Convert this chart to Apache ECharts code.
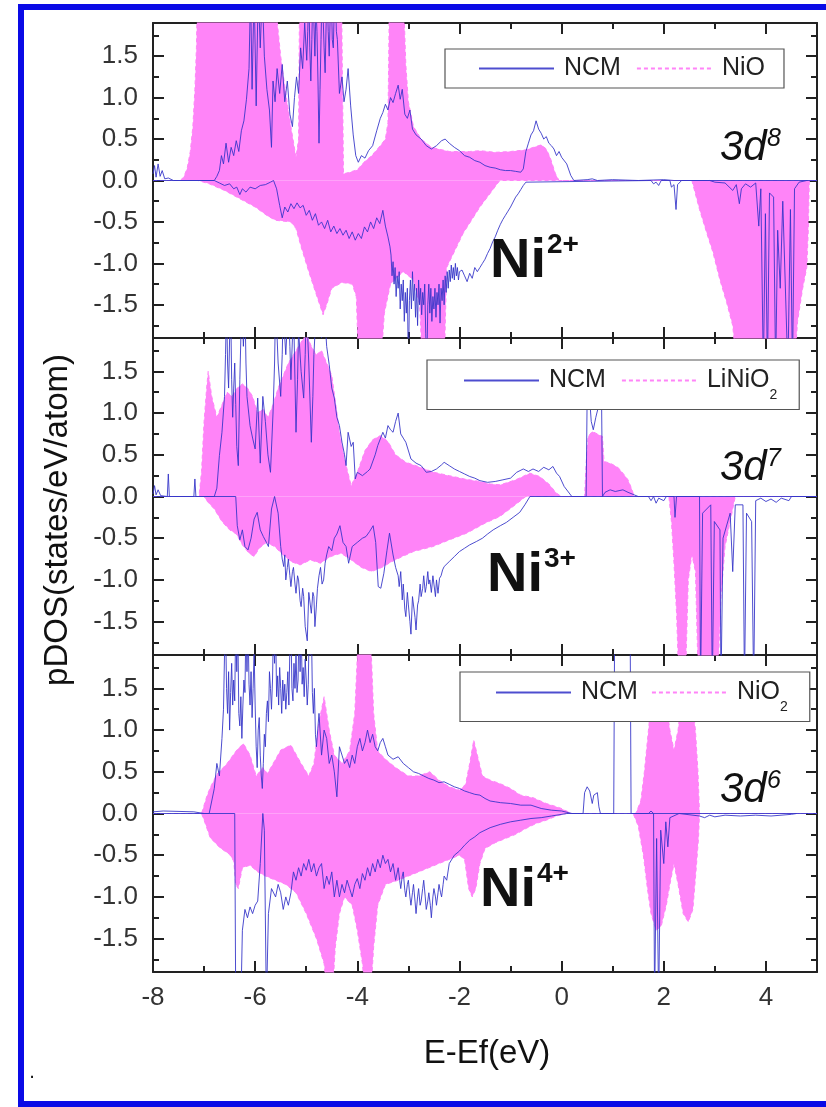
<!DOCTYPE html>
<html><head><meta charset="utf-8">
<script src="https://cdn.jsdelivr.net/npm/echarts@6/dist/echarts.min.js"></script>
<style>html,body{margin:0;padding:0;background:#fff}#c{width:826px;height:1107px}</style>
</head><body><div id="c"></div>
<script>
// ---------- tick labels ----------
const xMajorTicks = [-8, -6, -4, -2, 0, 2, 4];
const xMinorTicks = [-7, -5, -3, -1, 1, 3];
const yMajorTicks = [-1.5, -1, -0.5, 0, 0.5, 1, 1.5];
const yMinorTicks = [-1.75, -1.25, -0.75, -0.25, 0.25, 0.75, 1.25, 1.75];
const ncmName = 'NCM';
const refNames = ['NiO', 'LiNiO2', 'NiO2'];
const ionLabels = [['Ni', '2+'], ['Ni', '3+'], ['Ni', '4+']];
const configLabels = [['3d', '8'], ['3d', '7'], ['3d', '6']];
const xTitle = 'E-Ef(eV)';
const yTitle = 'pDOS(states/eV/atom)';

// ---------- panel 1 : Ni2+ (NCM vs NiO) ----------
const ncmUp1 = [[-8,0.08],[-7.97,0.18],[-7.94,0.04],[-7.9,0.2],[-7.86,0.05],[-7.82,0.12],[-7.77,0.02],[-7.7,0.03],[-7.6,0],[-6.8,0],[-6.75,0.05],[-6.7,0.12],[-6.66,0.3],[-6.62,0.2],[-6.57,0.45],[-6.52,0.22],[-6.47,0.4],[-6.42,0.3],[-6.37,0.48],[-6.32,0.35],[-6.27,0.6],[-6.22,0.72],[-6.17,0.98],[-6.12,1.35],[-6.09,2.3],[-6.06,1.1],[-6.02,2.3],[-5.98,0.9],[-5.94,2.3],[-5.9,1.6],[-5.86,2.3],[-5.82,1.5],[-5.77,1.1],[-5.72,0.85],[-5.68,0.4],[-5.65,1.2],[-5.61,0.95],[-5.57,1.35],[-5.52,1.05],[-5.47,1.4],[-5.42,0.95],[-5.37,1.2],[-5.32,0.8],[-5.27,0.65],[-5.23,1.0],[-5.19,1.25],[-5.15,1.05],[-5.11,1.6],[-5.07,1.35],[-5.03,1.9],[-4.99,1.45],[-4.97,1.8],[-4.95,2.3],[-4.93,1.6],[-4.91,1.2],[-4.89,1.7],[-4.87,2.3],[-4.85,1.9],[-4.83,1.5],[-4.81,2.1],[-4.79,1.8],[-4.77,1.2],[-4.75,0.45],[-4.73,1.1],[-4.71,1.7],[-4.69,2.3],[-4.67,2.0],[-4.65,1.6],[-4.63,1.3],[-4.61,1.9],[-4.59,2.3],[-4.57,1.8],[-4.55,1.5],[-4.53,2.0],[-4.51,2.3],[-4.49,1.7],[-4.47,1.6],[-4.45,2.1],[-4.43,2.3],[-4.41,1.8],[-4.39,1.7],[-4.35,1.05],[-4.3,1.25],[-4.26,0.95],[-4.22,1.1],[-4.18,1.35],[-4.13,0.9],[-4.08,0.55],[-4.03,0.3],[-3.98,0.22],[-3.92,0.3],[-3.85,0.27],[-3.78,0.36],[-3.7,0.42],[-3.62,0.6],[-3.55,0.75],[-3.5,0.82],[-3.45,0.92],[-3.4,0.85],[-3.35,1.0],[-3.3,0.94],[-3.25,1.05],[-3.2,1.15],[-3.16,0.98],[-3.12,1.1],[-3.07,0.8],[-3.02,0.75],[-2.97,0.85],[-2.92,0.62],[-2.85,0.55],[-2.75,0.5],[-2.65,0.42],[-2.55,0.38],[-2.45,0.42],[-2.35,0.48],[-2.28,0.5],[-2.2,0.45],[-2.1,0.4],[-2.0,0.36],[-1.9,0.3],[-1.8,0.28],[-1.7,0.24],[-1.6,0.22],[-1.5,0.18],[-1.4,0.16],[-1.3,0.15],[-1.2,0.13],[-1.1,0.12],[-1.0,0.12],[-0.9,0.11],[-0.8,0.1],[-0.75,0.14],[-0.7,0.35],[-0.65,0.45],[-0.6,0.55],[-0.55,0.6],[-0.5,0.72],[-0.45,0.62],[-0.4,0.57],[-0.35,0.5],[-0.3,0.53],[-0.25,0.45],[-0.2,0.42],[-0.15,0.38],[-0.1,0.3],[-0.05,0.35],[0,0.28],[0.1,0.2],[0.18,0.06],[0.24,0],[0.5,0.01],[0.6,0.02],[0.7,0],[1.0,0.01],[1.5,0],[2.0,0.01],[2.2,0],[5,0]];
const ncmDn1 = [[-8,0],[-6.8,0],[-6.7,-0.03],[-6.6,-0.06],[-6.5,-0.04],[-6.42,-0.1],[-6.36,-0.08],[-6.3,-0.17],[-6.25,-0.1],[-6.18,-0.14],[-6.1,-0.08],[-6.0,-0.1],[-5.9,-0.06],[-5.8,-0.05],[-5.7,-0.02],[-5.64,0],[-5.58,-0.1],[-5.52,-0.3],[-5.47,-0.45],[-5.42,-0.32],[-5.36,-0.38],[-5.3,-0.28],[-5.24,-0.34],[-5.18,-0.27],[-5.12,-0.33],[-5.06,-0.3],[-5.0,-0.42],[-4.94,-0.36],[-4.88,-0.48],[-4.82,-0.4],[-4.76,-0.54],[-4.7,-0.5],[-4.64,-0.58],[-4.58,-0.48],[-4.52,-0.62],[-4.46,-0.55],[-4.4,-0.64],[-4.34,-0.58],[-4.28,-0.66],[-4.22,-0.6],[-4.16,-0.7],[-4.1,-0.62],[-4.04,-0.72],[-3.98,-0.64],[-3.92,-0.7],[-3.86,-0.56],[-3.8,-0.62],[-3.74,-0.5],[-3.68,-0.58],[-3.62,-0.45],[-3.56,-0.52],[-3.5,-0.36],[-3.45,-0.55],[-3.4,-0.68],[-3.36,-0.8],[-3.34,-0.9],[-3.32,-1.15],[-3.3,-0.98],[-3.28,-1.25],[-3.26,-1.05],[-3.24,-1.4],[-3.22,-1.15],[-3.2,-1.3],[-3.18,-1.1],[-3.16,-1.55],[-3.14,-1.25],[-3.12,-1.45],[-3.1,-1.2],[-3.08,-1.7],[-3.06,-1.35],[-3.04,-1.6],[-3.02,-1.3],[-3.0,-2.3],[-2.98,-1.45],[-2.96,-1.2],[-2.94,-1.55],[-2.92,-1.1],[-2.9,-1.45],[-2.88,-1.25],[-2.86,-1.65],[-2.84,-1.3],[-2.82,-1.75],[-2.8,-1.2],[-2.78,-1.5],[-2.76,-1.3],[-2.74,-1.62],[-2.72,-1.35],[-2.7,-1.5],[-2.68,-1.25],[-2.66,-1.85],[-2.64,-2.3],[-2.62,-1.5],[-2.6,-1.25],[-2.58,-1.6],[-2.56,-1.3],[-2.54,-1.7],[-2.52,-1.4],[-2.5,-1.55],[-2.48,-1.3],[-2.46,-1.65],[-2.44,-1.35],[-2.42,-1.5],[-2.4,-1.25],[-2.38,-1.72],[-2.36,-1.3],[-2.34,-1.45],[-2.32,-1.2],[-2.3,-1.5],[-2.28,-1.15],[-2.26,-1.35],[-2.24,-1.1],[-2.22,-1.3],[-2.2,-1.08],[-2.18,-1.22],[-2.16,-1.02],[-2.14,-1.18],[-2.12,-1.05],[-2.1,-1.2],[-2.08,-1.0],[-2.06,-1.15],[-2.04,-1.05],[-2.02,-1.2],[-2.0,-1.1],[-1.95,-1.08],[-1.9,-1.15],[-1.85,-1.22],[-1.8,-1.12],[-1.75,-1.18],[-1.7,-1.05],[-1.65,-1.1],[-1.6,-1.05],[-1.55,-1.0],[-1.5,-0.95],[-1.45,-0.88],[-1.4,-0.82],[-1.35,-0.74],[-1.3,-0.68],[-1.25,-0.6],[-1.2,-0.53],[-1.15,-0.47],[-1.1,-0.42],[-1.05,-0.37],[-1.0,-0.32],[-0.95,-0.26],[-0.9,-0.2],[-0.85,-0.16],[-0.8,-0.11],[-0.75,-0.06],[-0.7,-0.02],[-0.67,0],[1.75,0],[1.8,-0.04],[1.85,-0.02],[1.9,-0.06],[1.95,0],[2.12,0],[2.15,-0.08],[2.2,-0.05],[2.24,-0.35],[2.27,-0.05],[2.35,0],[2.9,0],[3.0,-0.02],[3.2,-0.03],[3.35,-0.12],[3.42,-0.05],[3.48,-0.28],[3.52,-0.1],[3.6,-0.04],[3.7,-0.08],[3.8,-0.03],[3.86,-0.55],[3.9,-0.1],[3.95,-2.3],[3.99,-0.4],[4.03,-2.3],[4.07,-0.15],[4.15,-0.2],[4.19,-2.3],[4.23,-0.6],[4.28,-1.3],[4.33,-0.25],[4.43,-2.3],[4.48,-0.35],[4.52,-2.3],[4.56,-0.1],[4.65,-0.02],[4.8,0]];
const refUp1 = [[-8,0],[-7.47,0],[-7.4,0.04],[-7.33,0.15],[-7.27,0.35],[-7.22,0.65],[-7.18,1.1],[-7.15,1.6],[-7.13,2.3],[-5.63,2.3],[-5.5,1.5],[-5.4,1.05],[-5.3,0.65],[-5.2,0.28],[-5.15,0.5],[-5.13,2.3],[-4.31,2.3],[-4.27,0.08],[-4.15,0.1],[-4.0,0.13],[-3.87,0.22],[-3.72,0.3],[-3.55,0.42],[-3.45,0.5],[-3.4,0.7],[-3.37,2.3],[-3.1,2.3],[-3.05,1.4],[-3.0,0.95],[-2.9,0.65],[-2.75,0.5],[-2.55,0.4],[-2.2,0.35],[-1.8,0.35],[-1.6,0.36],[-1.3,0.34],[-1.0,0.35],[-0.7,0.37],[-0.55,0.4],[-0.4,0.43],[-0.3,0.38],[-0.22,0.27],[-0.12,0.08],[-0.05,0],[5,0]];
const refDn1 = [[-8,0],[-7.12,0],[-6.9,-0.04],[-6.6,-0.12],[-6.3,-0.22],[-6.0,-0.32],[-5.75,-0.43],[-5.6,-0.48],[-5.3,-0.5],[-5.2,-0.58],[-5.1,-0.8],[-4.95,-1.1],[-4.8,-1.38],[-4.67,-1.62],[-4.6,-1.5],[-4.5,-1.3],[-4.3,-1.23],[-4.1,-1.25],[-4.02,-1.4],[-3.97,-2.3],[-3.55,-2.3],[-3.47,-1.6],[-3.35,-1.25],[-3.1,-1.1],[-2.9,-1.2],[-2.78,-1.5],[-2.72,-2.3],[-2.3,-2.3],[-2.25,-1.05],[-1.93,-0.64],[-1.6,-0.32],[-1.21,0],[2.55,0],[2.7,-0.35],[2.85,-0.65],[2.96,-0.86],[3.1,-1.2],[3.23,-1.47],[3.35,-1.75],[3.43,-2.3],[4.55,-2.3],[4.62,-1.7],[4.72,-1.3],[4.8,-1.05],[4.83,-0.6],[4.85,0],[5,0]];

// ---------- panel 2 : Ni3+ (NCM vs LiNiO2) ----------
const ncmUp2 = [[-8,0.03],[-7.97,0.13],[-7.94,0.02],[-7.9,0.08],[-7.85,0.01],[-7.72,0],[-7.7,0.27],[-7.68,0],[-7.2,0],[-7.18,0.21],[-7.16,0],[-6.8,0],[-6.75,0.1],[-6.7,0.49],[-6.65,0.77],[-6.6,1.2],[-6.58,1.7],[-6.56,2.3],[-6.54,1.6],[-6.52,1.3],[-6.5,1.9],[-6.48,2.3],[-6.46,1.4],[-6.44,0.95],[-6.42,1.3],[-6.4,1.6],[-6.38,1.1],[-6.36,0.6],[-6.33,0.37],[-6.3,1.4],[-6.28,1.9],[-6.26,2.3],[-6.23,1.8],[-6.2,2.3],[-6.18,1.6],[-6.16,1.2],[-6.1,0.85],[-6.05,0.7],[-6.0,0.57],[-5.95,1.18],[-5.9,0.4],[-5.85,1.2],[-5.8,0.9],[-5.75,0.5],[-5.7,0.29],[-5.65,1.0],[-5.62,1.6],[-5.6,2.3],[-5.57,1.9],[-5.55,1.6],[-5.5,1.2],[-5.47,1.7],[-5.45,2.3],[-5.42,1.9],[-5.4,1.7],[-5.37,2.1],[-5.35,2.3],[-5.32,1.8],[-5.3,1.4],[-5.27,1.9],[-5.25,2.3],[-5.2,0.77],[-5.17,1.4],[-5.15,2.0],[-5.1,1.5],[-5.05,1.18],[-5.02,1.7],[-5.0,2.3],[-4.97,1.9],[-4.95,1.6],[-4.9,0.65],[-4.87,1.2],[-4.85,1.7],[-4.8,2.3],[-4.75,2.3],[-4.7,1.9],[-4.65,2.3],[-4.6,1.8],[-4.55,1.58],[-4.5,1.3],[-4.45,1.18],[-4.4,0.95],[-4.35,0.85],[-4.3,0.65],[-4.25,0.5],[-4.22,0.37],[-4.18,0.77],[-4.12,0.6],[-4.08,0.65],[-4.04,0.21],[-4.0,0.29],[-3.9,0.25],[-3.8,0.3],[-3.75,0.33],[-3.65,0.5],[-3.6,0.61],[-3.5,0.77],[-3.45,0.7],[-3.4,0.85],[-3.35,0.8],[-3.3,0.77],[-3.25,0.9],[-3.2,1.0],[-3.15,0.75],[-3.1,0.7],[-3.05,0.65],[-2.95,0.45],[-2.85,0.4],[-2.75,0.37],[-2.65,0.29],[-2.55,0.3],[-2.45,0.33],[-2.35,0.38],[-2.3,0.41],[-2.2,0.37],[-2.1,0.33],[-2.0,0.3],[-1.9,0.27],[-1.8,0.24],[-1.7,0.22],[-1.6,0.19],[-1.45,0.17],[-1.3,0.18],[-1.15,0.2],[-1.0,0.22],[-0.88,0.29],[-0.75,0.33],[-0.65,0.3],[-0.56,0.33],[-0.45,0.3],[-0.35,0.35],[-0.25,0.32],[-0.17,0.36],[-0.1,0.28],[-0.04,0.24],[0.05,0.12],[0.2,0],[0.48,0],[0.5,1.2],[0.54,1.25],[0.58,0.9],[0.62,0.8],[0.67,0.95],[0.73,1.1],[0.78,1.3],[0.8,0],[0.85,0.05],[0.95,0.08],[1.05,0.06],[1.2,0.08],[1.3,0.05],[1.42,0.02],[1.5,0],[5,0]];
const ncmDn2 = [[-8,0],[-6.38,0],[-6.35,-0.35],[-6.3,-0.52],[-6.25,-0.4],[-6.2,-0.6],[-6.14,-0.64],[-6.08,-0.5],[-6.02,-0.27],[-5.96,-0.19],[-5.9,-0.4],[-5.84,-0.48],[-5.78,-0.55],[-5.74,-0.6],[-5.68,-0.15],[-5.62,0],[-5.55,-0.2],[-5.5,-0.6],[-5.47,-0.75],[-5.44,-0.84],[-5.42,-0.7],[-5.4,-1.0],[-5.37,-0.85],[-5.35,-0.75],[-5.32,-0.95],[-5.3,-1.08],[-5.27,-0.9],[-5.25,-0.85],[-5.22,-1.05],[-5.2,-1.16],[-5.17,-0.95],[-5.15,-1.0],[-5.12,-1.25],[-5.1,-1.32],[-5.07,-1.1],[-5.05,-1.2],[-5.02,-1.56],[-4.98,-1.73],[-4.95,-1.15],[-4.92,-1.3],[-4.9,-1.4],[-4.87,-1.15],[-4.85,-1.2],[-4.83,-1.56],[-4.8,-1.3],[-4.78,-1.1],[-4.75,-0.95],[-4.72,-0.85],[-4.69,-1.05],[-4.66,-1.0],[-4.63,-0.8],[-4.6,-0.7],[-4.56,-0.6],[-4.5,-0.65],[-4.45,-0.5],[-4.4,-0.45],[-4.34,-0.35],[-4.28,-0.55],[-4.22,-0.6],[-4.17,-0.8],[-4.1,-0.6],[-4.0,-0.55],[-3.9,-0.5],[-3.83,-0.48],[-3.76,-0.42],[-3.69,-0.35],[-3.64,-0.55],[-3.59,-1.08],[-3.54,-1.1],[-3.48,-0.92],[-3.42,-0.65],[-3.37,-0.44],[-3.3,-0.7],[-3.25,-0.85],[-3.2,-0.95],[-3.18,-1.08],[-3.15,-0.9],[-3.12,-1.24],[-3.1,-1.05],[-3.07,-1.35],[-3.05,-1.44],[-3.02,-1.15],[-3.0,-1.3],[-2.97,-1.5],[-2.95,-1.65],[-2.92,-1.2],[-2.9,-1.3],[-2.87,-1.45],[-2.85,-1.6],[-2.82,-1.3],[-2.8,-1.25],[-2.77,-1.05],[-2.75,-1.2],[-2.72,-1.1],[-2.7,-0.95],[-2.67,-1.15],[-2.65,-1.08],[-2.62,-0.9],[-2.6,-1.05],[-2.58,-1.0],[-2.55,-1.15],[-2.52,-0.95],[-2.5,-1.05],[-2.47,-1.2],[-2.45,-1.0],[-2.42,-1.16],[-2.39,-0.98],[-2.36,-0.95],[-2.33,-0.88],[-2.3,-0.84],[-2.2,-0.78],[-2.1,-0.72],[-2.0,-0.66],[-1.9,-0.62],[-1.8,-0.58],[-1.67,-0.54],[-1.55,-0.5],[-1.45,-0.45],[-1.34,-0.4],[-1.2,-0.35],[-1.08,-0.31],[-0.95,-0.25],[-0.82,-0.19],[-0.72,-0.1],[-0.62,0],[1.7,0],[1.75,-0.05],[1.8,0],[1.85,-0.08],[1.9,-0.02],[2.0,-0.05],[2.05,0],[2.2,0],[2.22,-0.25],[2.25,0],[2.7,0],[2.72,-2.3],[2.76,-0.2],[2.92,-0.1],[2.95,-2.3],[2.99,-0.3],[3.1,-0.4],[3.12,-2.3],[3.16,-0.5],[3.3,-0.2],[3.35,-0.9],[3.4,-0.1],[3.55,-0.1],[3.58,-2.3],[3.62,-0.2],[3.72,-0.3],[3.76,-2.3],[3.8,-0.05],[3.9,-0.02],[4.0,-0.06],[4.1,-0.03],[4.2,-0.07],[4.3,-0.02],[4.45,-0.05],[4.5,0],[5,0]];
const refUp2 = [[-8,0],[-7.1,0],[-7.05,0.3],[-7.0,0.9],[-6.95,1.3],[-6.92,1.5],[-6.85,1.2],[-6.75,0.95],[-6.65,1.1],[-6.55,1.25],[-6.45,1.2],[-6.35,1.3],[-6.25,1.35],[-6.15,1.3],[-6.05,1.2],[-5.95,1.0],[-5.85,1.05],[-5.75,0.95],[-5.65,1.1],[-5.55,1.3],[-5.45,1.45],[-5.35,1.6],[-5.25,1.7],[-5.1,1.85],[-5.0,1.95],[-4.9,1.8],[-4.8,1.7],[-4.7,1.75],[-4.6,1.6],[-4.5,1.45],[-4.42,1.1],[-4.35,0.77],[-4.25,0.45],[-4.12,0.13],[-4.0,0.29],[-3.85,0.55],[-3.7,0.68],[-3.55,0.73],[-3.4,0.66],[-3.25,0.5],[-3.05,0.41],[-2.85,0.37],[-2.5,0.29],[-2.2,0.25],[-1.9,0.21],[-1.6,0.18],[-1.4,0.15],[-1.2,0.14],[-0.9,0.2],[-0.62,0.28],[-0.43,0.24],[-0.25,0.15],[-0.1,0.04],[0,0],[0.45,0],[0.48,0.4],[0.52,0.72],[0.6,0.78],[0.7,0.75],[0.8,0.72],[0.83,0.42],[0.95,0.4],[1.1,0.35],[1.2,0.28],[1.3,0.2],[1.38,0.08],[1.42,0],[5,0]];
const refDn2 = [[-8,0],[-7.0,0],[-6.95,-0.05],[-6.8,-0.15],[-6.65,-0.3],[-6.5,-0.4],[-6.37,-0.45],[-6.25,-0.58],[-6.12,-0.68],[-6.02,-0.72],[-5.92,-0.62],[-5.78,-0.55],[-5.62,-0.6],[-5.45,-0.7],[-5.3,-0.78],[-5.12,-0.82],[-4.92,-0.76],[-4.72,-0.8],[-4.52,-0.72],[-4.32,-0.68],[-4.12,-0.76],[-3.92,-0.85],[-3.72,-0.9],[-3.52,-0.85],[-3.32,-0.78],[-3.12,-0.72],[-2.9,-0.66],[-2.52,-0.6],[-2.2,-0.52],[-1.86,-0.44],[-1.5,-0.32],[-1.21,-0.24],[-0.95,-0.12],[-0.7,0],[2.1,0],[2.15,-0.3],[2.2,-0.8],[2.25,-1.4],[2.3,-2.3],[2.42,-2.3],[2.48,-1.0],[2.55,-0.7],[2.62,-0.9],[2.68,-2.3],[3.05,-2.3],[3.12,-1.2],[3.2,-0.6],[3.3,-0.3],[3.4,0],[5,0]];

// ---------- panel 3 : Ni4+ (NCM vs NiO2) ----------
const ncmUp3 = [[-8,0.02],[-7.8,0.03],[-7.2,0.02],[-7.0,0],[-6.9,0],[-6.85,0.15],[-6.8,0.3],[-6.75,0.6],[-6.7,0.45],[-6.65,0.9],[-6.62,1.25],[-6.6,1.9],[-6.58,2.3],[-6.56,1.5],[-6.54,1.2],[-6.52,1.7],[-6.5,1.0],[-6.48,1.45],[-6.46,1.8],[-6.44,1.3],[-6.42,1.6],[-6.4,1.35],[-6.38,2.3],[-6.36,1.7],[-6.34,2.3],[-6.32,1.2],[-6.3,1.05],[-6.28,1.4],[-6.26,0.9],[-6.24,1.3],[-6.22,1.6],[-6.2,1.45],[-6.18,2.3],[-6.16,1.7],[-6.14,2.3],[-6.12,1.55],[-6.1,1.3],[-6.08,1.7],[-6.06,1.15],[-6.04,1.5],[-6.02,1.95],[-6.0,1.3],[-5.98,0.8],[-5.96,0.55],[-5.94,1.0],[-5.92,1.15],[-5.9,0.7],[-5.88,0.45],[-5.86,0.3],[-5.84,0.6],[-5.82,0.95],[-5.8,0.8],[-5.78,1.2],[-5.76,1.35],[-5.74,1.1],[-5.72,1.7],[-5.7,1.5],[-5.68,1.25],[-5.66,1.6],[-5.64,2.3],[-5.62,1.8],[-5.6,2.3],[-5.58,1.4],[-5.56,1.65],[-5.54,1.3],[-5.52,1.75],[-5.5,1.5],[-5.48,1.2],[-5.46,1.6],[-5.44,1.35],[-5.42,1.55],[-5.4,1.25],[-5.38,1.45],[-5.36,1.7],[-5.34,1.3],[-5.32,2.0],[-5.3,2.3],[-5.28,1.5],[-5.26,1.35],[-5.24,1.8],[-5.22,1.5],[-5.2,1.9],[-5.18,1.45],[-5.16,1.6],[-5.14,2.3],[-5.12,1.7],[-5.1,2.3],[-5.08,1.55],[-5.06,1.75],[-5.04,1.4],[-5.02,1.85],[-5.0,1.6],[-4.98,1.3],[-4.96,1.55],[-4.94,2.3],[-4.92,1.9],[-4.9,2.3],[-4.88,1.45],[-4.86,1.2],[-4.84,1.5],[-4.82,0.95],[-4.8,0.8],[-4.75,1.2],[-4.7,0.7],[-4.65,1.0],[-4.6,0.9],[-4.55,0.6],[-4.5,0.7],[-4.45,0.5],[-4.4,0.2],[-4.35,0.8],[-4.3,0.7],[-4.25,0.6],[-4.2,0.65],[-4.15,0.55],[-4.1,0.7],[-4.05,0.6],[-4.0,0.8],[-3.95,0.9],[-3.9,0.75],[-3.85,0.85],[-3.8,1.0],[-3.75,0.85],[-3.7,0.95],[-3.65,0.8],[-3.6,0.75],[-3.55,0.85],[-3.5,0.9],[-3.45,0.8],[-3.4,0.7],[-3.3,0.65],[-3.2,0.68],[-3.1,0.6],[-3.0,0.55],[-2.9,0.5],[-2.8,0.48],[-2.7,0.45],[-2.6,0.42],[-2.5,0.4],[-2.4,0.37],[-2.3,0.38],[-2.2,0.35],[-2.1,0.32],[-2.0,0.3],[-1.9,0.27],[-1.8,0.25],[-1.7,0.23],[-1.6,0.22],[-1.5,0.18],[-1.4,0.15],[-1.3,0.14],[-1.2,0.13],[-1.0,0.12],[-0.8,0.1],[-0.6,0.1],[-0.4,0.06],[-0.2,0.04],[0,0.03],[0.2,0],[0.42,0],[0.45,0.25],[0.5,0.32],[0.55,0.27],[0.6,0.12],[0.63,0.22],[0.7,0.25],[0.73,0.08],[0.76,0],[1.02,0],[1.04,2.5],[1.34,2.5],[1.36,0],[5,0]];
const ncmDn3 = [[-8,0],[-6.4,0],[-6.38,-2.3],[-6.28,-2.3],[-6.25,-1.4],[-6.2,-1.15],[-6.15,-1.25],[-6.1,-1.12],[-6.05,-1.2],[-6.0,-1.1],[-5.95,-1.05],[-5.9,-0.6],[-5.85,0],[-5.82,-0.2],[-5.78,-2.3],[-5.74,-1.2],[-5.68,-0.9],[-5.6,-1.0],[-5.55,-0.85],[-5.5,-0.95],[-5.45,-1.15],[-5.4,-1.0],[-5.35,-1.1],[-5.3,-0.95],[-5.25,-0.7],[-5.2,-0.8],[-5.15,-0.65],[-5.1,-0.75],[-5.05,-0.6],[-5.0,-0.68],[-4.95,-0.55],[-4.9,-0.7],[-4.85,-0.6],[-4.8,-0.75],[-4.75,-0.65],[-4.7,-0.6],[-4.65,-0.9],[-4.6,-0.75],[-4.55,-0.85],[-4.5,-0.7],[-4.45,-1.0],[-4.4,-0.8],[-4.35,-1.0],[-4.3,-0.85],[-4.25,-0.95],[-4.2,-0.8],[-4.15,-0.9],[-4.1,-1.0],[-4.05,-0.85],[-4.0,-0.78],[-3.95,-0.9],[-3.9,-0.72],[-3.85,-0.8],[-3.8,-0.65],[-3.75,-0.75],[-3.7,-0.6],[-3.65,-0.7],[-3.6,-0.55],[-3.55,-0.65],[-3.5,-0.5],[-3.45,-0.6],[-3.4,-0.55],[-3.35,-0.7],[-3.3,-0.6],[-3.25,-0.8],[-3.2,-0.65],[-3.17,-0.8],[-3.15,-0.9],[-3.12,-0.75],[-3.1,-0.7],[-3.07,-0.92],[-3.05,-1.0],[-3.02,-0.85],[-3.0,-0.8],[-2.97,-1.0],[-2.95,-1.1],[-2.92,-0.95],[-2.9,-0.85],[-2.87,-1.05],[-2.85,-1.2],[-2.82,-1.0],[-2.8,-0.9],[-2.77,-1.1],[-2.75,-1.05],[-2.72,-0.9],[-2.7,-0.8],[-2.67,-1.0],[-2.65,-1.15],[-2.62,-1.05],[-2.6,-0.95],[-2.57,-1.1],[-2.55,-1.25],[-2.52,-1.0],[-2.5,-0.9],[-2.47,-1.0],[-2.45,-1.1],[-2.42,-0.95],[-2.4,-0.85],[-2.37,-0.95],[-2.35,-1.0],[-2.32,-0.85],[-2.3,-0.75],[-2.25,-0.8],[-2.2,-0.6],[-2.1,-0.5],[-2.0,-0.45],[-1.9,-0.38],[-1.8,-0.32],[-1.7,-0.28],[-1.6,-0.23],[-1.5,-0.2],[-1.4,-0.17],[-1.2,-0.13],[-1.0,-0.1],[-0.8,-0.08],[-0.6,-0.06],[-0.4,-0.05],[-0.2,-0.03],[0.1,0],[1.7,0],[1.75,0.03],[1.8,0],[1.82,-2.3],[1.86,-0.3],[1.9,-2.3],[1.94,-0.2],[2.0,-0.6],[2.04,-0.1],[2.08,-0.4],[2.12,-0.05],[2.3,0],[2.7,-0.03],[2.8,-0.05],[2.9,-0.02],[3.0,-0.04],[3.2,-0.02],[3.5,-0.03],[3.8,-0.02],[4.1,-0.03],[4.5,-0.01],[4.6,0]];
const refUp3 = [[-8,0],[-7.05,0],[-7.0,0.1],[-6.95,0.2],[-6.88,0.31],[-6.75,0.47],[-6.55,0.6],[-6.36,0.76],[-6.23,0.84],[-6.1,0.7],[-5.98,0.45],[-5.85,0.55],[-5.76,0.48],[-5.6,0.65],[-5.5,0.76],[-5.3,0.82],[-5.1,0.6],[-4.95,0.45],[-4.85,0.6],[-4.75,1.1],[-4.65,1.4],[-4.55,1.0],[-4.45,0.7],[-4.3,0.6],[-4.15,0.75],[-4.05,1.2],[-3.97,2.3],[-3.75,2.3],[-3.68,1.2],[-3.6,0.75],[-3.45,0.65],[-3.25,0.55],[-3.0,0.45],[-2.8,0.45],[-2.58,0.5],[-2.4,0.4],[-2.2,0.32],[-2.0,0.28],[-1.88,0.35],[-1.8,0.6],[-1.72,0.88],[-1.65,0.7],[-1.55,0.45],[-1.4,0.4],[-1.21,0.36],[-1.0,0.3],[-0.8,0.22],[-0.56,0.19],[-0.3,0.12],[-0.04,0.07],[0.2,0],[1.45,0],[1.55,0.15],[1.62,0.5],[1.7,1.0],[1.78,1.5],[1.85,1.6],[1.95,1.55],[2.05,1.3],[2.12,1.0],[2.2,0.76],[2.28,1.0],[2.35,1.4],[2.45,1.55],[2.55,1.4],[2.62,1.0],[2.67,0.5],[2.7,0],[5,0]];
const refDn3 = [[-8,0],[-7.05,0],[-7.0,-0.08],[-6.88,-0.29],[-6.69,-0.41],[-6.5,-0.49],[-6.42,-0.57],[-6.38,-0.85],[-6.33,-0.9],[-6.25,-0.65],[-6.1,-0.62],[-5.95,-0.7],[-5.8,-0.75],[-5.6,-0.8],[-5.4,-0.85],[-5.2,-0.95],[-5.0,-1.2],[-4.8,-1.5],[-4.65,-1.8],[-4.57,-2.3],[-4.5,-2.3],[-4.43,-1.6],[-4.35,-1.2],[-4.25,-1.0],[-4.1,-1.1],[-4.0,-1.4],[-3.9,-1.8],[-3.83,-2.3],[-3.75,-2.3],[-3.68,-1.6],[-3.6,-1.1],[-3.45,-0.85],[-3.2,-0.8],[-3.0,-0.75],[-2.8,-0.7],[-2.6,-0.65],[-2.4,-0.6],[-2.2,-0.55],[-2.0,-0.5],[-1.9,-0.55],[-1.82,-0.9],[-1.75,-1.0],[-1.68,-0.9],[-1.6,-0.6],[-1.5,-0.42],[-1.3,-0.35],[-1.1,-0.3],[-0.9,-0.25],[-0.7,-0.18],[-0.5,-0.12],[-0.3,-0.08],[-0.1,-0.03],[0.1,0],[1.4,0],[1.5,-0.15],[1.6,-0.5],[1.68,-0.9],[1.75,-1.2],[1.85,-1.4],[1.95,-1.35],[2.05,-1.1],[2.12,-0.85],[2.2,-0.6],[2.28,-0.85],[2.38,-1.2],[2.48,-1.3],[2.57,-1.15],[2.63,-0.7],[2.68,-0.3],[2.7,0],[5,0]];

// ---------- build ----------
const FONT = "'Liberation Sans', Arial, Helvetica, sans-serif";
const PINK = '#ff84f8';
const BLUE = '#3434c8';
const AXIS = '#222';
const panelData = [
  {up: ncmUp1, dn: ncmDn1, rUp: refUp1, rDn: refDn1},
  {up: ncmUp2, dn: ncmDn2, rUp: refUp2, rDn: refDn2},
  {up: ncmUp3, dn: ncmDn3, rUp: refUp3, rDn: refDn3}
];
const gridTops = [23, 338, 655];
const gridHeights = [315, 317, 317];

const grids = gridTops.map((t, i) => ({left: 153, width: 664, top: t, height: gridHeights[i], containLabel: false, outerBoundsMode: 'none'}));
const xAxes = [], yAxes = [];
function xAx(g, pos, ticks, len, line, label) {
  return {type: 'value', gridIndex: g, position: pos, min: -8, max: 5,
    axisLine: {show: line, onZero: false, lineStyle: {color: AXIS, width: 2}},
    axisTick: {show: true, inside: true, length: len, customValues: ticks, lineStyle: {color: AXIS, width: 2}},
    axisLabel: {show: label, customValues: xMajorTicks, margin: 13, color: '#333', fontSize: 26, fontFamily: FONT},
    splitLine: {show: false}, minorTick: {show: false}};
}
function yAx(g, pos, ticks, len, line, label) {
  return {type: 'value', gridIndex: g, position: pos, min: -1.9, max: 1.9,
    axisLine: {show: line, onZero: false, lineStyle: {color: AXIS, width: 2}},
    axisTick: {show: true, inside: true, length: len, customValues: ticks, lineStyle: {color: AXIS, width: 2}},
    axisLabel: {show: label, customValues: yMajorTicks, margin: 15, color: '#333', fontSize: 26, fontFamily: FONT,
      formatter: v => v.toFixed(1)},
    splitLine: {show: false}, minorTick: {show: false}};
}
for (let g = 0; g < 3; g++) {
  xAxes.push(xAx(g, 'bottom', xMajorTicks, 11, true, g === 2));
  xAxes.push(xAx(g, 'bottom', xMinorTicks, 6, false, false));
  xAxes.push(xAx(g, 'top', xMajorTicks, 11, true, false));
  xAxes.push(xAx(g, 'top', xMinorTicks, 6, false, false));
  yAxes.push(yAx(g, 'left', yMajorTicks, 11, true, true));
  yAxes.push(yAx(g, 'left', yMinorTicks, 6, false, false));
  yAxes.push(yAx(g, 'right', yMajorTicks, 11, true, false));
  yAxes.push(yAx(g, 'right', yMinorTicks, 6, false, false));
}

const series = [];
panelData.forEach((p, g) => {
  const base = {type: 'line', xAxisIndex: 4 * g, yAxisIndex: 4 * g, symbol: 'none', showSymbol: false,
    animation: false, silent: true, clip: true};
  [p.rUp, p.rDn].forEach(d => series.push(Object.assign({}, base, {
    name: refNames[g], data: d, z: 2,
    itemStyle: {color: PINK},
    lineStyle: {color: PINK, width: 1, type: [4, 3]},
    areaStyle: {color: PINK, opacity: 1}
  })));
  [p.up, p.dn].forEach(d => series.push(Object.assign({}, base, {
    name: ncmName, data: d, z: 3,
    itemStyle: {color: BLUE},
    lineStyle: {color: BLUE, width: 1, opacity: 0.88}
  })));
});

const legendBoxes = [
  {left: 445, top: 49, padding: [7, 19, 7, 33], itemGap: 15, lh: 27},
  {left: 427, top: 360, padding: [8, 22, 7, 36], itemGap: 15, lh: 44},
  {left: 460, top: 672, padding: [8, 22, 7, 35], itemGap: 13, lh: 44}
];
const legends = legendBoxes.map((b, g) => ({
  left: b.left, top: b.top, orient: 'horizontal', padding: b.padding, itemGap: b.itemGap,
  itemWidth: 75, itemHeight: 14, backgroundColor: '#fff', borderColor: '#555', borderWidth: 1.2, borderRadius: 0,
  selectedMode: false, z: 20,
  itemStyle: {color: 'rgba(0,0,0,0)', borderWidth: 0, opacity: 0},
  data: [ncmName, refNames[g]],
  formatter: name => {
    const m = name.match(/^(.*?)(\d)$/);
    return m ? '{a|' + m[1] + '}{b|' + m[2] + '}' : '{a|' + name + '}';
  },
  textStyle: {fontFamily: FONT, fontSize: 25, color: '#222', padding: [0, 0, 0, 5],
    rich: {
      a: {fontFamily: FONT, fontSize: 25, color: '#222', lineHeight: b.lh, verticalAlign: 'middle'},
      b: {fontFamily: FONT, fontSize: 14, color: '#222', lineHeight: 14, verticalAlign: 'bottom'}
    }}
}));

function txt(x, y, s, size, weight, style, align, rot) {
  const el = {type: 'text', x: x, y: y, z: 30, silent: true,
    style: {text: s, fontSize: size, fontFamily: FONT, fontWeight: weight || 'normal', fontStyle: style || 'normal',
      fill: '#111', textAlign: align || 'left', textVerticalAlign: 'middle'}};
  if (rot) el.rotation = rot;
  return el;
}
const confY = [148, 468, 790];
const ionPos = [[490, 262, 547, 245], [487, 576, 544, 559], [480, 891, 537, 874]];
const graphics = [
  {type: 'rect', shape: {x: 21, y: 7, width: 900, height: 1097}, z: 40, silent: true,
   style: {fill: 'none', stroke: '#0a0ae6', lineWidth: 6}},
  txt(58, 520, yTitle, 33, 'normal', 'normal', 'center', Math.PI / 2),
  txt(487, 1054, xTitle, 33, 'normal', 'normal', 'center'),
  txt(32, 1072, '.', 20, 'normal', 'normal', 'center')
];
for (let g = 0; g < 3; g++) {
  graphics.push(txt(720, confY[g], configLabels[g][0], 42, 'normal', 'italic', 'left'));
  graphics.push(txt(767, confY[g] - 9, configLabels[g][1], 25, 'normal', 'italic', 'left'));
  graphics.push(txt(ionPos[g][0], ionPos[g][1], ionLabels[g][0], 56, 'bold', 'normal', 'left'));
  graphics.push(txt(ionPos[g][2], ionPos[g][3], ionLabels[g][1], 28, 'bold', 'normal', 'left'));
}

const chart = echarts.init(document.getElementById('c'), null, {renderer: 'canvas'});
chart.setOption({
  animation: false,
  backgroundColor: '#fff',
  grid: grids,
  xAxis: xAxes,
  yAxis: yAxes,
  legend: legends,
  series: series,
  graphic: graphics
});
</script>
</body></html>
